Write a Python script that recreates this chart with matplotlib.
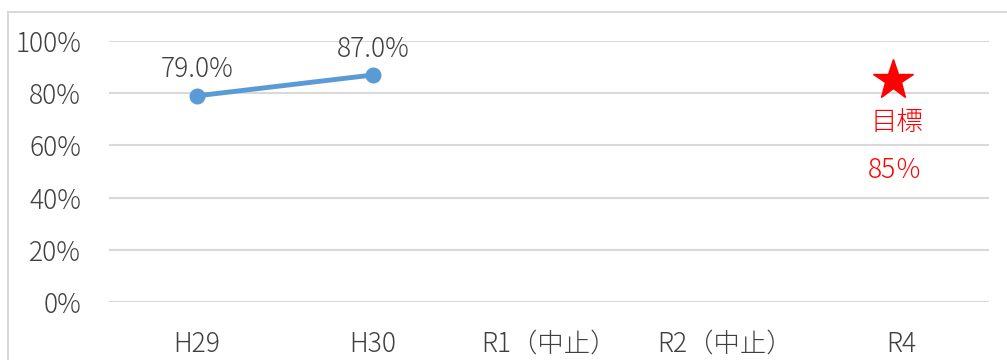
import matplotlib.pyplot as plt
from matplotlib.lines import Line2D
from matplotlib.transforms import offset_copy

plt.rcParams['font.family'] = ['Noto Sans CJK JP', 'DejaVu Sans']
plt.rcParams['font.weight'] = 'light'

years = ["H29", "H30", "R1（中止）", "R2（中止）", "R4"]
rate = [0.79, 0.87]
target = 0.85
target_label = "目標"
y_ticks = [0, 0.2, 0.4, 0.6, 0.8, 1.0]

blue = "#5B9BD5"
grid = "#D9D9D9"
text_col = "#404040"
fs = 19


def main():
    fig = plt.figure(figsize=(10.07, 3.6), dpi=100)
    ax = fig.add_axes([0.1082, 0.161, 0.874, 0.725])

    x = list(range(len(years)))
    ax.plot(x[:len(rate)], rate, color=blue, linewidth=3.5, marker="o",
            markersize=10.5, solid_capstyle="round", zorder=3)
    for xi, v in zip(x, rate):
        ax.annotate(f"{v * 100:.1f}%", (xi, v), xytext=(0, 19),
                    textcoords="offset points", ha="center", va="center",
                    fontsize=fs, color=text_col)

    # target marker for the last year, nudged a little left like the shape in the sheet
    xt = x[-1]
    star_tr = offset_copy(ax.transData, fig=fig, x=-8, y=0, units="dots")
    ax.plot([xt], [target], marker="*", color="red", markersize=30,
            linestyle="none", zorder=3, transform=star_tr)
    ax.annotate(target_label, (xt, target), xytext=(-3, -30),
                textcoords="offset points", ha="center", va="center",
                fontsize=fs, color="red")
    ax.annotate(f"{target * 100:.0f}％", (xt, target), xytext=(-4, -65),
                textcoords="offset points", ha="center", va="center",
                fontsize=fs, color="red")

    ax.set_xlim(-0.5, len(years) - 0.5)
    ax.set_ylim(0, 1)
    ax.set_yticks(y_ticks)
    ax.set_yticklabels([f"{t * 100:.0f}%" for t in y_ticks])
    ax.set_xticks(x)
    ax.set_xticklabels(years)
    ax.tick_params(axis="both", length=0, labelsize=fs, labelcolor=text_col)
    ax.tick_params(axis="y", pad=20)
    ax.tick_params(axis="x", pad=20)
    ax.grid(axis="y", color=grid, linewidth=1.5)
    ax.set_axisbelow(True)
    for s in ax.spines.values():
        s.set_visible(False)

    # chart frame (left and top edges)
    fig.add_artist(Line2D([8 / 1007, 8 / 1007], [0, 1 - 12 / 360],
                          transform=fig.transFigure, color=grid, linewidth=1.5))
    fig.add_artist(Line2D([8 / 1007, 1], [1 - 12 / 360, 1 - 12 / 360],
                          transform=fig.transFigure, color=grid, linewidth=1.5))

    fig.savefig("out.png", dpi=100)


if __name__ == "__main__":
    main()
